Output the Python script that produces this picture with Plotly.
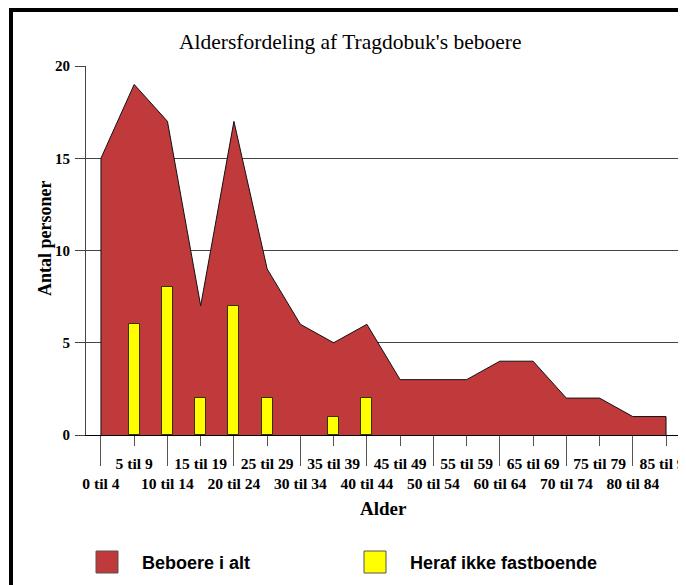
import plotly.graph_objects as go

# ---- data ----
age_groups = ["0 til 4", "5 til 9", "10 til 14", "15 til 19", "20 til 24", "25 til 29",
              "30 til 34", "35 til 39", "40 til 44", "45 til 49", "50 til 54", "55 til 59",
              "60 til 64", "65 til 69", "70 til 74", "75 til 79", "80 til 84", "85 til 90"]
beboere_i_alt = [15, 19, 17, 7, 17, 9, 6, 5, 6, 3, 3, 3, 4, 4, 2, 2, 1, 1]
ikke_fastboende = [0, 6, 8, 2, 7, 2, 0, 1, 2, 0, 0, 0, 0, 0, 0, 0, 0, 0]
y_ticks = [0, 5, 10, 15, 20]

idx = list(range(len(age_groups)))

# ---- layout geometry (pixels); the page body has an 8px margin ----
OFF = 8
W, H = 686 - OFF, 585 - OFF
# plot area in screen pixels: x 86..681, y 66..435
L, R, T, B = 86 - OFF, W - (681 - OFF), 66 - OFF, H - (435 - OFF)
PW, PH = W - L - R, H - T - B


def px(x):  # screen x -> paper
    return (x - OFF - L) / PW


def py(y):  # screen y -> paper
    return (H - B - (y - OFF)) / PH


RED = "#C0393B"
YEL = "#FFFF00"
SERIF = "Liberation Serif"
SANS = "Liberation Sans"

fig = go.Figure()

# area (closed polygon down to the baseline at both ends)
fig.add_trace(go.Scatter(
    x=[idx[0]] + idx + [idx[-1]],
    y=[0] + beboere_i_alt + [0],
    mode="lines", fill="toself", fillcolor=RED,
    line=dict(color="#111111", width=1),
    name="Beboere i alt", showlegend=False, hoverinfo="skip",
    xaxis="x", yaxis="y",
))

# bars on the overlaid x2 axis so they are drawn above the area (zero bars omitted)
fig.add_trace(go.Bar(
    x=idx, y=[v if v else None for v in ikke_fastboende], width=0.33,
    marker=dict(color=YEL, line=dict(color="#333300", width=1)),
    name="Heraf ikke fastboende", showlegend=False,
    xaxis="x2", yaxis="y",
))

xrange = [-0.45, len(age_groups) - 1 + 0.45]
tickfont = dict(family=SERIF, size=15.6, color="black", weight="bold")

fig.update_layout(
    width=W, height=H,
    margin=dict(l=L, r=R, t=T, b=B, autoexpand=False),
    paper_bgcolor="white", plot_bgcolor="white",
    showlegend=False,
    xaxis=dict(
        range=xrange, showgrid=False, zeroline=False,
        showline=True, linecolor="black", linewidth=1,
        tickmode="array", tickvals=idx[1::2], ticktext=age_groups[1::2],
        ticks="outside", ticklen=10, tickcolor="#555555", tickwidth=1,
        tickfont=tickfont, ticklabeloverflow="allow", automargin=False,
        ticklabelstandoff=4,
    ),
    xaxis2=dict(
        range=xrange, overlaying="x", anchor="y", side="bottom",
        showgrid=False, zeroline=False, showline=False,
        tickmode="array", tickvals=idx[0::2], ticktext=age_groups[0::2],
        ticks="outside", ticklen=30, tickcolor="#555555", tickwidth=1,
        tickfont=tickfont, ticklabeloverflow="allow", automargin=False,
        ticklabelstandoff=4,
    ),
    yaxis=dict(
        range=[0, 20], tickmode="array", tickvals=y_ticks,
        showgrid=True, gridcolor="#444444", gridwidth=1, zeroline=False,
        showline=True, linecolor="#444444", linewidth=1,
        ticks="outside", ticklen=10, tickcolor="#444444",
        tickfont=dict(family=SERIF, size=15, color="black", weight="bold"),
        automargin=False, ticklabelstandoff=2,
    ),
    bargap=0,
)

annotations = [
    dict(text="Aldersfordeling af Tragdobuk's beboere", xref="paper", yref="paper",
         x=px(350), y=py(42), xanchor="center", yanchor="middle", showarrow=False,
         font=dict(family=SERIF, size=21.5, color="black")),
    dict(text="Alder", xref="paper", yref="paper",
         x=px(383), y=py(508), xanchor="center", yanchor="middle", showarrow=False,
         font=dict(family=SERIF, size=19, color="black", weight="bold")),
    dict(text="Antal personer", xref="paper", yref="paper", textangle=-90,
         x=px(45), y=py(238), xanchor="center", yanchor="middle", showarrow=False,
         font=dict(family=SERIF, size=18, color="black", weight="bold")),
    dict(text="Beboere i alt", xref="paper", yref="paper",
         x=px(140), y=py(563), xanchor="left", yanchor="middle", showarrow=False,
         font=dict(family=SANS, size=18, color="black", weight="bold")),
    dict(text="Heraf ikke fastboende", xref="paper", yref="paper",
         x=px(408), y=py(563), xanchor="left", yanchor="middle", showarrow=False,
         font=dict(family=SANS, size=18, color="black", weight="bold")),
]

shapes = [
    # outer border (runs off the right and bottom edges)
    dict(type="rect", xref="paper", yref="paper",
         x0=px(11), y0=py(10), x1=px(700), y1=py(600),
         line=dict(color="black", width=4), fillcolor="rgba(0,0,0,0)", layer="above"),
    # legend swatches
    dict(type="rect", xref="paper", yref="paper",
         x0=px(96), x1=px(118), y0=py(551), y1=py(573),
         line=dict(color="#555555", width=1), fillcolor=RED),
    dict(type="rect", xref="paper", yref="paper",
         x0=px(364), x1=px(386), y0=py(551), y1=py(573),
         line=dict(color="#555555", width=1), fillcolor=YEL),
]

fig.update_layout(annotations=annotations, shapes=shapes)

fig.write_html("out.html")
